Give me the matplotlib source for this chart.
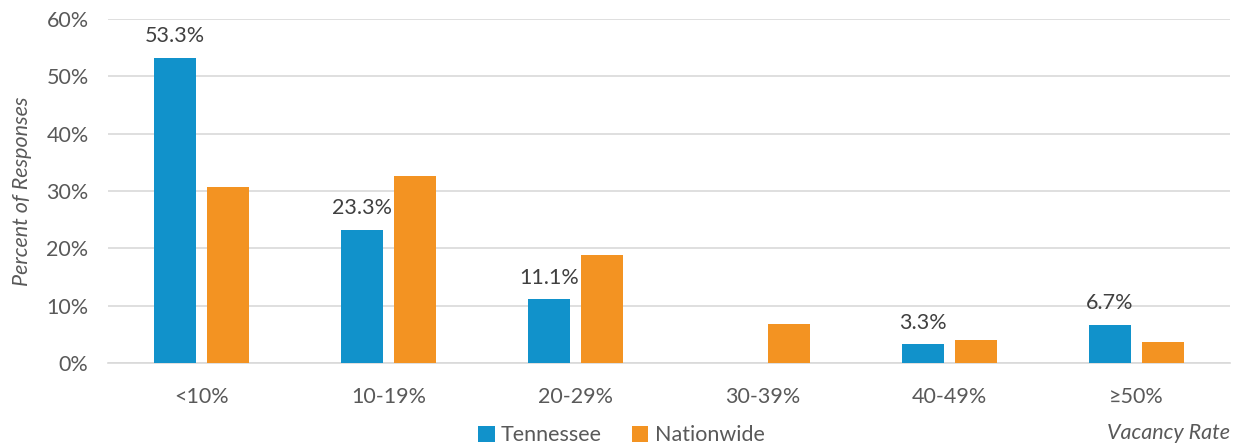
import matplotlib
matplotlib.use("Agg")
import matplotlib.pyplot as plt
import numpy as np

# ----------------------------
# Data
# ----------------------------
categories = ["<10%", "10-19%", "20-29%", "30-39%", "40-49%", "≥50%"]
tennessee = [53.3, 23.3, 11.1, 0.0, 3.3, 6.7]
nationwide = [30.7, 32.6, 18.8, 6.8, 4.0, 3.7]
tn_labels = ["53.3%", "23.3%", "11.1%", None, "3.3%", "6.7%"]

BLUE = "#1192CB"
ORANGE = "#F39322"
TEXT = "#595959"
GRID = "#D9D9D9"
FS = 15.5

plt.rcParams["font.family"] = ["Lato", "DejaVu Sans"]

fig = plt.figure(figsize=(12.43, 4.46), dpi=100)
ax = fig.add_axes([0.0869, 0.186, 0.9026, 0.771])

x = np.arange(len(categories))
w = 0.2246
off = 0.142
ax.bar(x - off, tennessee, w, color=BLUE, label="Tennessee", zorder=3)
ax.bar(x + off, nationwide, w, color=ORANGE, label="Nationwide", zorder=3)

# value labels above the Tennessee bars
for xi, v, lab in zip(x, tennessee, tn_labels):
    if lab:
        ax.text(xi - off, v + 2.0, lab, ha="center", va="bottom",
                fontsize=FS, color="#404040")

ax.set_xlim(-0.5, len(categories) - 0.5)
ax.set_ylim(0, 60)
ax.set_yticks(range(0, 61, 10))
ax.set_yticklabels([f"{v}%" for v in range(0, 61, 10)])
ax.set_xticks(x)
ax.set_xticklabels(categories)
ax.tick_params(axis="both", length=0, labelsize=FS, colors=TEXT)
ax.tick_params(axis="x", pad=17)
ax.tick_params(axis="y", pad=14)
ax.grid(axis="y", color=GRID, lw=1.2, zorder=0)
for s in ["top", "right", "left"]:
    ax.spines[s].set_visible(False)
ax.spines["bottom"].set_color(GRID)
ax.spines["bottom"].set_linewidth(1.2)

ax.set_ylabel("Percent of Responses", fontsize=FS, color=TEXT, style="italic", labelpad=10)

fig.legend(loc="center", bbox_to_anchor=(0.5, 0.024), ncol=2, frameon=False,
           fontsize=FS, labelcolor=TEXT, handlelength=0.75, handleheight=0.75,
           handletextpad=0.3, columnspacing=1.4)
fig.text(0.9895, 0.03, "Vacancy Rate", ha="right", va="center",
         fontsize=FS, color=TEXT, style="italic")

fig.savefig("out.png", dpi=100)
